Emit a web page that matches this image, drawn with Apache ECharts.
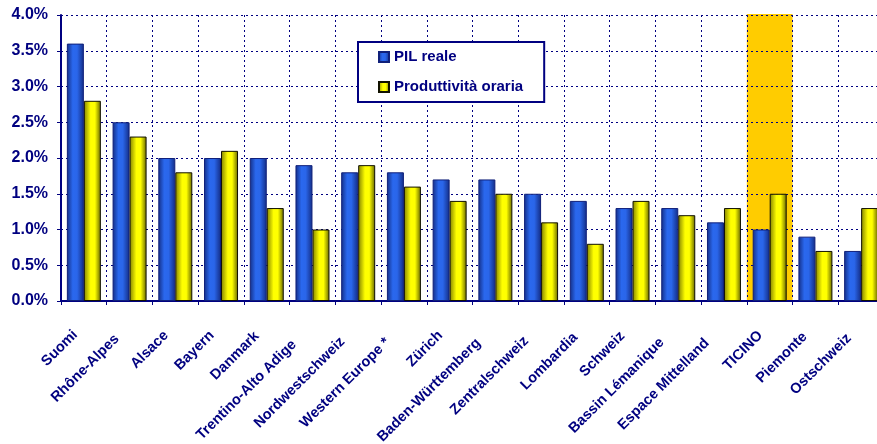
<!DOCTYPE html>
<html>
<head>
<meta charset="utf-8">
<script src="https://cdn.jsdelivr.net/npm/echarts@6/dist/echarts.min.js"></script>
<style>
  html, body { margin: 0; padding: 0; background: #fff; overflow: hidden; }
  /* the plot runs past the right edge of the picture, as in the reference */
  #chart { width: 884px; height: 444px; }
</style>
</head>
<body>
<div id="chart"></div>
<script>
// data (percent)
const regions = [
  'Suomi', 'Rhône-Alpes', 'Alsace', 'Bayern', 'Danmark', 'Trentino-Alto Adige',
  'Nordwestschweiz', 'Western Europe *', 'Zürich', 'Baden-Württemberg',
  'Zentralschweiz', 'Lombardia', 'Schweiz', 'Bassin Lémanique',
  'Espace Mittelland', 'TICINO', 'Piemonte', 'Ostschweiz'
]
const pilReale = [3.6, 2.5, 2.0, 2.0, 2.0, 1.9, 1.8, 1.8, 1.7, 1.7, 1.5, 1.4, 1.3, 1.3, 1.1, 1.0, 0.9, 0.7]
const produttivita = [2.8, 2.3, 1.8, 2.1, 1.3, 1.0, 1.9, 1.6, 1.4, 1.5, 1.1, 0.8, 1.4, 1.2, 1.3, 1.5, 0.7, 1.3]
const highlighted = [['TICINO', 4.0]]
const seriesNames = ['PIL reale', 'Produttività oraria']

const navy = '#000080'
const font = 'Liberation Sans, Arial, sans-serif'

const blueFill = new echarts.graphic.LinearGradient(0, 0, 1, 0, [
  { offset: 0, color: '#142e86' },
  { offset: 0.35, color: '#2a68ee' },
  { offset: 0.6, color: '#2a66ea' },
  { offset: 1, color: '#132c84' }
])
const yellowFill = new echarts.graphic.LinearGradient(0, 0, 1, 0, [
  { offset: 0, color: '#828200' },
  { offset: 0.4, color: '#ffff00' },
  { offset: 0.65, color: '#ffff00' },
  { offset: 1, color: '#646400' }
])

// Excel slides longer rotated labels further down-left; mimic with a right padding
// that grows with the label length
const labelRich = {}
for (let n = 0; n <= 40; n++) {
  labelRich['p' + n] = {
    padding: [0, n, 0, 0],
    color: navy,
    fontSize: 14.5,
    fontWeight: 'bold',
    fontFamily: font
  }
}

const chart = echarts.init(document.getElementById('chart'), undefined, { renderer: 'canvas' })

chart.setOption({
  animation: false,
  textStyle: { fontFamily: font },
  grid: {
    left: 61, right: 0, top: 15, bottom: 143,
    containLabel: false,
    outerBoundsMode: 'none'
  },
  legend: {
    data: seriesNames,
    orient: 'vertical',
    left: 358,
    top: 42,
    padding: [6, 21, 6, 20],
    itemGap: 12,
    itemWidth: 10,
    itemHeight: 10,
    icon: 'rect',
    borderColor: navy,
    borderWidth: 2,
    backgroundColor: '#fff',
    textStyle: { color: navy, fontSize: 15, fontWeight: 'bold', lineHeight: 18 }
  },
  xAxis: {
    type: 'category',
    data: regions,
    axisLine: { lineStyle: { color: navy, width: 2 } },
    axisTick: { show: true, interval: 0, length: 4, lineStyle: { color: navy, width: 1 } },
    axisLabel: {
      interval: 0,
      rotate: 45,
      margin: 23,
      color: navy,
      fontSize: 14.5,
      fontWeight: 'bold',
      rich: labelRich,
      formatter: name => `{p${Math.round(6.6 + name.length)}|${name}}`
    },
    splitLine: {
      show: true,
      interval: 0,
      lineStyle: { color: navy, type: [2, 3], width: 1 }
    }
  },
  yAxis: {
    type: 'value',
    min: 0,
    max: 4.0,
    interval: 0.5,
    axisLine: { show: true, lineStyle: { color: navy, width: 2 } },
    axisTick: { show: true, length: 4, lineStyle: { color: navy } },
    axisLabel: {
      margin: 13,
      color: navy,
      fontSize: 16,
      fontWeight: 'bold',
      formatter: v => v.toFixed(1) + '%'
    },
    splitLine: { lineStyle: { color: navy, type: [2, 3], width: 1 } }
  },
  series: [
    {
      // TICINO highlight band, drawn under the grid lines
      type: 'custom',
      z: -1,
      silent: true,
      data: highlighted,
      renderItem: (params, api) => {
        const top = api.coord([api.value(0), api.value(1)])
        const bottom = api.coord([api.value(0), 0])
        const w = api.size([1, 0])[0]
        return {
          type: 'rect',
          shape: { x: top[0] - w / 2, y: top[1] - 1, width: w, height: bottom[1] - top[1] + 1 },
          style: { fill: '#FFCC00' }
        }
      }
    },
    {
      name: seriesNames[0],
      type: 'bar',
      barWidth: 17,
      barGap: '0%',
      data: pilReale,
      itemStyle: { color: blueFill, borderColor: '#10207a', borderWidth: 1 }
    },
    {
      name: seriesNames[1],
      type: 'bar',
      barWidth: 17,
      barGap: '0%',
      data: produttivita,
      itemStyle: { color: yellowFill, borderColor: '#111100', borderWidth: 1 }
    }
  ]
})
</script>
</body>
</html>
